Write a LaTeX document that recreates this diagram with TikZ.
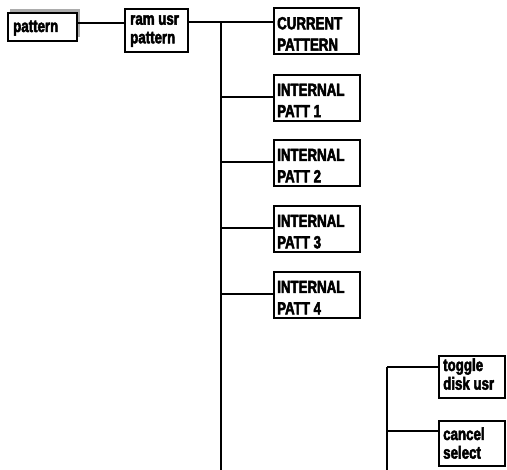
\documentclass[tikz,border=0pt]{standalone}
\usepackage{fontspec}
\newfontfamily\condfont[FakeStretch=0.76, FakeBold=2.8, UprightFont={* Bold}, BoldFont={* Bold}]{Liberation Sans}
\newcommand{\twolines}[2]{\parbox[t]{90pt}{#1\\#2}}
\begin{document}
\begin{tikzpicture}[x=1pt,y=-1pt,
  wire/.style={line width=2pt},
  boxstyle/.style={draw, line width=1.8pt, fill=white, inner sep=0pt, anchor=north west},
  lowtxt/.style={font=\condfont\bfseries\fontsize{17.5}{18.6}\selectfont, inner sep=0pt, anchor=base west},
  captxt/.style={font=\condfont\bfseries\fontsize{17.5}{21.3}\selectfont, inner sep=0pt, anchor=base west}]
\useasboundingbox (0,0) rectangle (507,470);

% boxes (the first one carries a drop shadow)
\fill[gray!65] (10,9) rectangle (80,37);
\node[boxstyle, minimum width=69pt, minimum height=28pt] (pat) at (7,12) {};
\node[boxstyle, minimum width=63pt, minimum height=43pt] (ram) at (124,8) {};
\node[boxstyle, minimum width=85pt, minimum height=46pt] (cur) at (273,7) {};
\node[boxstyle, minimum width=86pt, minimum height=46pt] (p1) at (273,74) {};
\node[boxstyle, minimum width=86pt, minimum height=46pt] (p2) at (273,139) {};
\node[boxstyle, minimum width=86pt, minimum height=46pt] (p3) at (273,205) {};
\node[boxstyle, minimum width=86pt, minimum height=46pt] (p4) at (273,271) {};
\node[boxstyle, minimum width=66pt, minimum height=42pt] (tog) at (438,355) {};
\node[boxstyle, minimum width=66pt, minimum height=45pt] (can) at (438,420) {};

% labels
\node[lowtxt] (patT) at (13,32) {pattern};
\node[lowtxt] (ramT) at (130,24.7) {\twolines{ram usr}{pattern}};
\node[captxt] (curT) at (277,29.3) {\twolines{CURRENT}{PATTERN}};
\node[captxt] (p1T) at (277,95.8) {\twolines{INTERNAL}{PATT 1}};
\node[captxt] (p2T) at (277,161) {\twolines{INTERNAL}{PATT 2}};
\node[captxt] (p3T) at (277,227) {\twolines{INTERNAL}{PATT 3}};
\node[captxt] (p4T) at (277,293) {\twolines{INTERNAL}{PATT 4}};
\node[lowtxt] (togT) at (443,371) {\twolines{toggle}{disk usr}};
\node[lowtxt] (canT) at (443,440) {\twolines{cancel}{select}};

% junction points
\coordinate (h0) at (100,23);
\coordinate (j0) at (221,22);
\coordinate (j1) at (221,97);
\coordinate (j2) at (221,162);
\coordinate (j3) at (221,228);
\coordinate (j4) at (221,294);
\coordinate (jb) at (221,470);
\coordinate (k0) at (387,367);
\coordinate (k1) at (387,431);
\coordinate (kb) at (387,470);

% connectors
\draw[wire] (pat.east |- h0) -- (ram.west |- h0);
\draw[wire] (ram.east |- j0) -- (cur.west |- j0);
\draw[wire] (j0) -- (jb);
\draw[wire] (j1) -- (p1.west |- j1);
\draw[wire] (j2) -- (p2.west |- j2);
\draw[wire] (j3) -- (p3.west |- j3);
\draw[wire] (j4) -- (p4.west |- j4);
\draw[wire] (k0) -- (kb);
\draw[wire] (k0) -- (tog.west |- k0);
\draw[wire] (k1) -- (can.west |- k1);
\end{tikzpicture}
\end{document}
